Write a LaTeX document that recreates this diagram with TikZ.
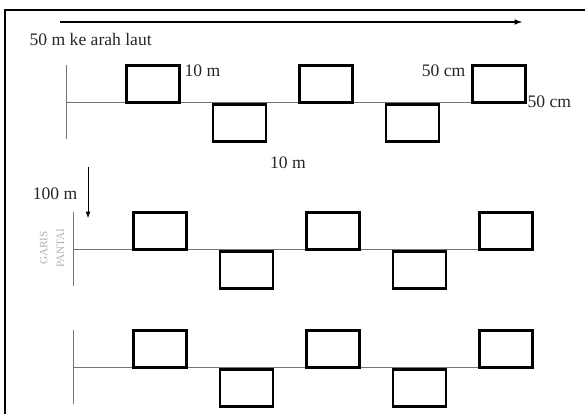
\documentclass[tikz,border=0pt]{standalone}
\usepackage{fontspec}
\setmainfont{Liberation Serif}
\usetikzlibrary{arrows, positioning}

\begin{document}
\begin{tikzpicture}[x=0.025cm, y=-0.025cm,
    petak/.style={draw, line width=1.9pt, minimum width=1.325cm, minimum height=0.925cm, inner sep=0pt, anchor=north west},
    garis/.style={draw=black!55, line width=0.6pt},
    ket/.style={font=\fontsize{12.5}{14}\selectfont, text=black!85, inner sep=1pt}]
    \useasboundingbox (0,0) rectangle (585,414);
    % bingkai
    \draw[line width=1.6pt] (5,414) -- (5,10) -- (585,10);

    % arah laut
    \coordinate (laut0) at (60,22);
    \coordinate (laut1) at (522,22);
    \draw[-latex, line width=0.8pt] (laut0) -- (laut1);
    \node[ket, anchor=west] (lautText) at (28,39) {50 m ke arah laut};

    % tiga transek
    \foreach \r/\x/\y in {1/66/102, 2/73/249, 3/73/367} {
        \coordinate (pantai\r) at (\x,\y);
        \draw[garis] (pantai\r) ++(0,-37) -- ++(0,74);
        \draw[garis] (pantai\r) -- ++(429,0);
        \foreach \i/\dy in {0/-38, 1/+1, 2/-38, 3/+1, 4/-38}
            \node[petak] (petak\r\i) at (\x+59+86.5*\i, \y\dy) {};
    }

    % ukuran
    \node[ket, anchor=west] (jarak1) at (183,71) {10 m};
    \node[ket, anchor=east] (ukuran1) at (467,71) {50 cm};
    \node[ket, anchor=west] (ukuran2) at (526,102) {50 cm};
    \node[ket] (jarak2) at (288,163) {10 m};
    \node[ket] (jarak3) at (55,194) {100 m};
    \coordinate (darat0) at (88,167);
    \coordinate (darat1) at (88,218);
    \draw[-latex, line width=0.6pt] (darat0) -- (darat1);
    \node[rotate=90, text=black!30, font=\fontsize{8}{12}\selectfont, align=center, inner sep=0pt] (pantaiText) at (52,248) {GARIS\\PANTAI};
\end{tikzpicture}
\end{document}
